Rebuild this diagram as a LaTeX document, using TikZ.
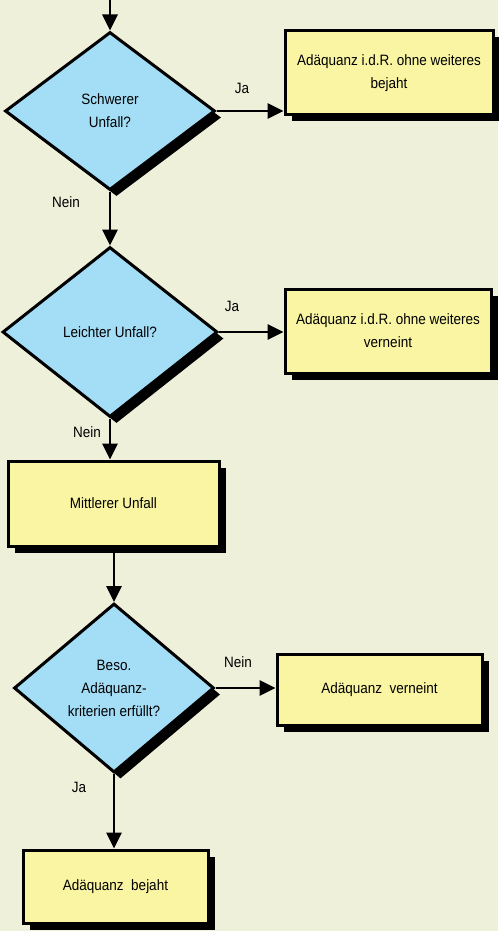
\documentclass[tikz,border=0pt]{standalone}
\usepackage{fontspec}
\setmainfont[FakeStretch=0.9]{Liberation Sans}
\usetikzlibrary{shapes.geometric,arrows.meta,shadows}
\definecolor{bg}{HTML}{EEF0DA}
\definecolor{dblue}{HTML}{A3DDF6}
\definecolor{byel}{HTML}{F9F5A2}
\begin{document}
\begin{tikzpicture}[x=1pt,y=-1pt,
  txt/.style={font=\fontsize{15}{23}\selectfont, align=center},
  decision/.style={shape=diamond, draw=black, line width=3pt, fill=dblue,
     inner sep=0pt, txt,
     drop shadow={shadow xshift=6.5pt, shadow yshift=-6.5pt, fill=black, opacity=1}},
  procbox/.style={shape=rectangle, draw=black, line width=3pt, fill=byel,
     inner sep=0pt, txt,
     drop shadow={shadow xshift=6.5pt, shadow yshift=-6.5pt, fill=black, opacity=1}},
  flow/.style={line width=2.8pt, -{Triangle[length=16pt,width=15pt]}},
  lbl/.style={font=\fontsize{15}{18}\selectfont}
]
\fill[bg] (0,0) rectangle (498,931);
\useasboundingbox (0,0) rectangle (498,931);

% decisions
\node[decision, minimum width=210pt, minimum height=158pt] (d1) at (110,111) {Schwerer\\Unfall?};
\node[decision, minimum width=215pt, minimum height=170pt] (d2) at (110,332) {Leichter Unfall?};
\node[decision, minimum width=200pt, minimum height=169pt] (d3) at (114,688) {Beso.\\Adäquanz-\\kriterien erfüllt?};

% boxes
\node[procbox, minimum width=208pt, minimum height=84pt] (b1) at (389,73) {Adäquanz i.d.R. ohne weiteres\\bejaht};
\node[procbox, minimum width=206pt, minimum height=84pt] (b2) at (388,331) {Adäquanz i.d.R. ohne weiteres\\verneint};
\node[procbox, minimum width=211pt, minimum height=85pt] (b3) at (113.5,503.5) {Mittlerer Unfall};
\node[procbox, minimum width=205pt, minimum height=71pt] (b4) at (379.5,689.5) {Adäquanz\enspace verneint};
\node[procbox, minimum width=185pt, minimum height=73pt] (b5) at (115.5,886.5) {Adäquanz\enspace bejaht};

% connectors
\coordinate (start) at (110,0);
\draw[flow] (start) -- (d1.north);
\draw[flow] (d1.east) -- (d1.east -| b1.west);
\draw[flow] (d1.south) -- (d2.north);
\draw[flow] (d2.east) -- (d2.east -| b2.west);
\draw[flow] (d2.south) -- (d2.south |- b3.north);
\draw[flow] (b3.south -| d3.north) -- (d3.north);
\draw[flow] (d3.east) -- (d3.east -| b4.west);
\draw[flow] (d3.south) -- (d3.south |- b5.north);

% labels
\node[lbl] (l1) at (242,88) {Ja};
\node[lbl] (l2) at (66,202) {Nein};
\node[lbl] (l3) at (232,306) {Ja};
\node[lbl] (l4) at (87,432) {Nein};
\node[lbl] (l5) at (238,662) {Nein};
\node[lbl] (l6) at (79,787) {Ja};
\end{tikzpicture}
\end{document}
